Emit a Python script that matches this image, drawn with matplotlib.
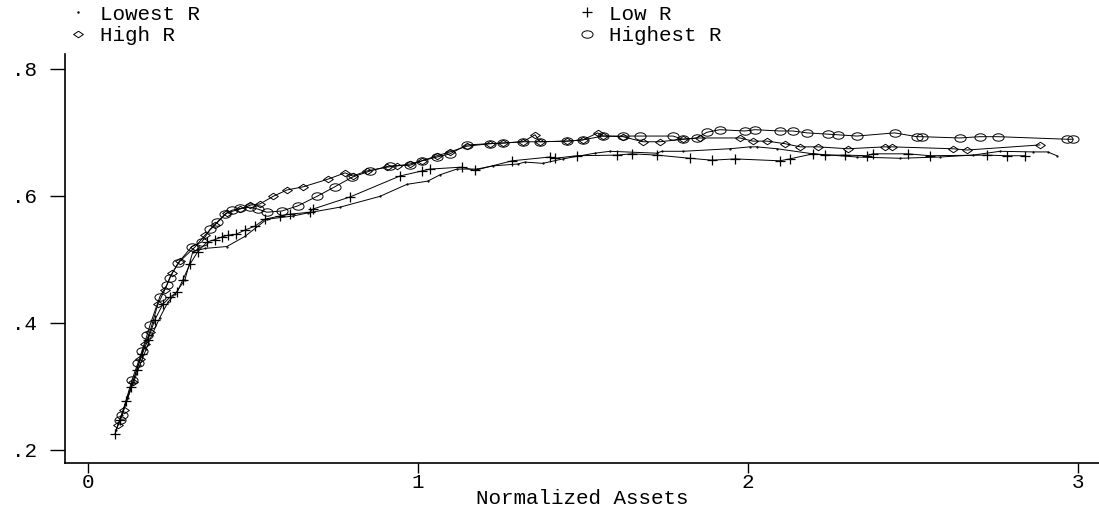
import matplotlib
matplotlib.use("Agg")
import matplotlib.pyplot as plt
from matplotlib.path import Path
from matplotlib.transforms import Affine2D
from matplotlib.lines import Line2D
from matplotlib.ticker import FuncFormatter

# values
lowest_x = [0.085, 0.103, 0.121, 0.139, 0.158, 0.176, 0.194, 0.218, 0.242, 0.264, 0.294,
            0.318, 0.355, 0.421, 0.476, 0.542, 0.621, 0.667, 0.764, 0.885, 0.967, 1.030,
            1.067, 1.118, 1.179, 1.227, 1.303, 1.324, 1.379, 1.439, 1.536, 1.582, 1.724,
            1.739, 1.803, 1.945, 2.006, 2.027, 2.088, 2.197, 2.330, 2.461, 2.582, 2.682,
            2.764, 2.864, 2.909, 2.936]
lowest_y = [0.231, 0.255, 0.282, 0.307, 0.334, 0.358, 0.381, 0.408, 0.432, 0.445, 0.468,
            0.512, 0.517, 0.520, 0.536, 0.563, 0.568, 0.573, 0.582, 0.599, 0.618, 0.623,
            0.633, 0.642, 0.642, 0.647, 0.650, 0.653, 0.651, 0.658, 0.667, 0.670, 0.667,
            0.670, 0.670, 0.674, 0.677, 0.677, 0.674, 0.666, 0.661, 0.659, 0.661, 0.664,
            0.670, 0.669, 0.669, 0.663]

low_x = [0.082, 0.097, 0.115, 0.130, 0.148, 0.164, 0.182, 0.203, 0.227, 0.248, 0.270,
         0.288, 0.309, 0.333, 0.361, 0.385, 0.406, 0.424, 0.448, 0.476, 0.506, 0.536,
         0.582, 0.612, 0.673, 0.682, 0.794, 0.945, 1.012, 1.036, 1.133, 1.173, 1.285,
         1.400, 1.415, 1.482, 1.603, 1.648, 1.724, 1.824, 1.891, 1.961, 2.097, 2.127,
         2.197, 2.233, 2.294, 2.361, 2.379, 2.485, 2.552, 2.724, 2.785, 2.839]
low_y = [0.225, 0.247, 0.276, 0.298, 0.326, 0.350, 0.373, 0.405, 0.429, 0.440, 0.448,
         0.468, 0.492, 0.512, 0.527, 0.531, 0.535, 0.538, 0.539, 0.546, 0.552, 0.563,
         0.568, 0.571, 0.574, 0.579, 0.598, 0.631, 0.639, 0.642, 0.645, 0.640, 0.655,
         0.661, 0.659, 0.663, 0.664, 0.666, 0.664, 0.659, 0.656, 0.658, 0.655, 0.658,
         0.666, 0.664, 0.664, 0.663, 0.666, 0.666, 0.663, 0.664, 0.663, 0.663]

high_x = [0.091, 0.109, 0.136, 0.158, 0.173, 0.188, 0.212, 0.233, 0.255, 0.279, 0.324,
          0.355, 0.385, 0.421, 0.461, 0.491, 0.521, 0.561, 0.603, 0.652, 0.727, 0.779,
          0.803, 0.845, 0.906, 0.936, 0.976, 1.012, 1.058, 1.097, 1.148, 1.218, 1.258,
          1.318, 1.355, 1.370, 1.452, 1.500, 1.545, 1.561, 1.621, 1.682, 1.733, 1.803,
          1.855, 1.976, 2.015, 2.058, 2.112, 2.158, 2.212, 2.303, 2.415, 2.436, 2.621,
          2.664, 2.885]
high_y = [0.239, 0.263, 0.306, 0.342, 0.366, 0.386, 0.429, 0.452, 0.478, 0.497, 0.519,
          0.538, 0.554, 0.573, 0.579, 0.585, 0.587, 0.599, 0.609, 0.614, 0.626, 0.636,
          0.631, 0.639, 0.645, 0.647, 0.650, 0.655, 0.663, 0.669, 0.678, 0.682, 0.683,
          0.685, 0.696, 0.685, 0.686, 0.688, 0.699, 0.694, 0.693, 0.685, 0.685, 0.689,
          0.691, 0.691, 0.686, 0.686, 0.682, 0.677, 0.677, 0.674, 0.677, 0.677, 0.674,
          0.672, 0.680]

highest_x = [0.097, 0.103, 0.133, 0.152, 0.164, 0.179, 0.188, 0.218, 0.239, 0.248, 0.273,
             0.315, 0.345, 0.370, 0.391, 0.415, 0.436, 0.461, 0.491, 0.515, 0.542, 0.588,
             0.636, 0.694, 0.748, 0.800, 0.855, 0.915, 0.976, 1.012, 1.058, 1.097, 1.148,
             1.218, 1.258, 1.318, 1.370, 1.452, 1.500, 1.561, 1.621, 1.673, 1.773, 1.803,
             1.845, 1.876, 1.915, 1.991, 2.021, 2.097, 2.136, 2.179, 2.242, 2.273, 2.330,
             2.445, 2.512, 2.527, 2.642, 2.703, 2.758, 2.967, 2.985]
highest_y = [0.246, 0.255, 0.309, 0.337, 0.356, 0.380, 0.396, 0.441, 0.459, 0.471, 0.494,
             0.520, 0.527, 0.547, 0.558, 0.571, 0.577, 0.580, 0.582, 0.579, 0.574, 0.576,
             0.584, 0.599, 0.614, 0.629, 0.639, 0.647, 0.648, 0.655, 0.661, 0.666, 0.680,
             0.682, 0.683, 0.685, 0.685, 0.686, 0.688, 0.694, 0.694, 0.694, 0.694, 0.689,
             0.691, 0.700, 0.704, 0.702, 0.704, 0.702, 0.702, 0.699, 0.697, 0.696, 0.694,
             0.699, 0.693, 0.693, 0.691, 0.693, 0.693, 0.689, 0.689]

labels = ["Lowest R", "Low R", "High R", "Highest R"]
xticks = [0, 1, 2, 3]
yticks = [0.2, 0.4, 0.6, 0.8]

FS = 15
plt.rcParams["font.family"] = ["Liberation Mono", "DejaVu Sans Mono"]

# flattened markers like the old stata ones
ellipse = Affine2D().scale(1.5, 1.0).transform_path(Path.unit_circle())
diamond = Path([(-1.5, 0), (0, 1), (1.5, 0), (0, -1), (-1.5, 0)],
               [Path.MOVETO, Path.LINETO, Path.LINETO, Path.LINETO, Path.CLOSEPOLY])

fig = plt.figure(figsize=(10.99, 5.11), dpi=100)
ax = fig.add_axes([0.059, 0.094, 0.941, 0.800])

lw = 0.7
ax.plot(lowest_x, lowest_y, color="black", lw=lw, marker=".", ms=1.2)
ax.plot(low_x, low_y, color="black", lw=lw, marker="+", ms=7, mew=0.9)
ax.plot(high_x, high_y, color="black", lw=lw, marker=diamond, ms=7,
        mfc="none", mew=0.7)
ax.plot(highest_x, highest_y, color="black", lw=lw, marker=ellipse, ms=8,
        mfc="none", mew=0.7)

ax.set_xlim(-0.07, 3.064)
ax.set_ylim(0.179, 0.823)
ax.set_xticks(xticks)
ax.set_yticks(yticks)
ax.yaxis.set_major_formatter(FuncFormatter(lambda v, p: ("%.1f" % v).lstrip("0")))
ax.tick_params(axis="both", direction="out", width=1.0, labelsize=FS, color="black")
ax.tick_params(axis="x", length=7, pad=0)
ax.tick_params(axis="y", length=11, pad=9)
for s in ["top", "right"]:
    ax.spines[s].set_visible(False)
for s in ["left", "bottom"]:
    ax.spines[s].set_linewidth(1.2)
ax.set_xlabel("Normalized Assets", fontsize=FS, labelpad=-2)

handles = [
    Line2D([], [], ls="none", color="black", marker=".", ms=1.5),
    Line2D([], [], ls="none", color="black", marker=diamond, ms=7, mfc="none", mew=0.7),
    Line2D([], [], ls="none", color="black", marker="+", ms=7, mew=0.9),
    Line2D([], [], ls="none", color="black", marker=ellipse, ms=8, mfc="none", mew=0.7),
]
order = [labels[0], labels[2], labels[1], labels[3]]
fig.legend(handles, order, ncol=2, loc="upper left", bbox_to_anchor=(0.0596, 0.999),
           frameon=False, fontsize=FS, handlelength=0.8, handletextpad=0.65,
           columnspacing=18.2, labelspacing=0.11, borderpad=0.2, borderaxespad=0)

fig.savefig("out.png", dpi=100)
